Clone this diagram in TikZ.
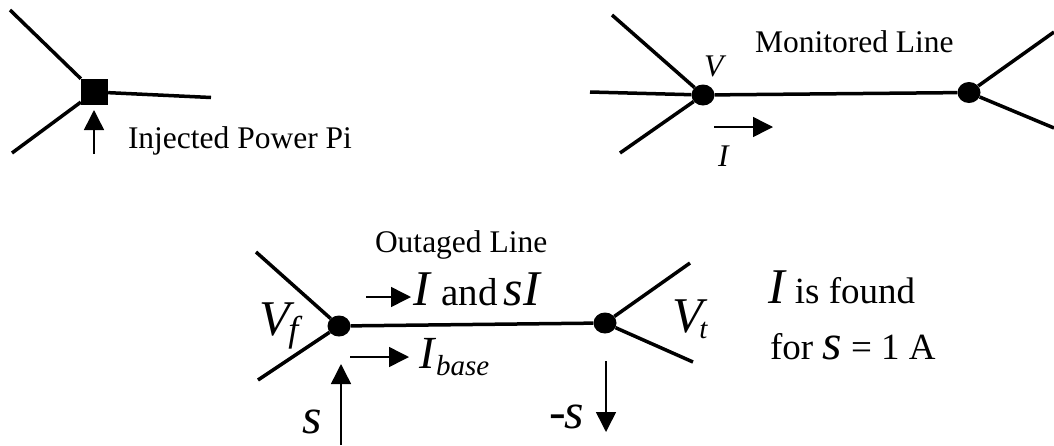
\documentclass[tikz,border=0pt]{standalone}
\usepackage{fontspec}
\setmainfont{Liberation Serif}
\usetikzlibrary{arrows.meta,shapes.geometric}
\newcommand{\fs}[1]{\fontsize{#1pt}{#1pt}\selectfont}
\tikzset{
  wire/.style={line width=3.5pt},
  bus/.style={ellipse,fill=black,draw=none,minimum width=23pt,minimum height=21pt,inner sep=0pt},
  busq/.style={rectangle,fill=black,draw=none,minimum width=27pt,minimum height=26pt,inner sep=0pt},
  flow/.style={line width=1.5pt,-{Triangle[length=20pt,width=20pt]}},
  lab/.style={anchor=base west,inner sep=0pt,outer sep=0pt},
  small/.style={lab,font=\fs{31.5}},
  big/.style={lab,font=\fs{50}},
  mid/.style={lab,font=\fs{37}}
}
\begin{document}
\begin{tikzpicture}[x=1pt,y=-1pt]
\useasboundingbox (0,0) rectangle (1054,445);
% injected power
\node[busq] (inj) at (94.5,92) {};
\coordinate (injA) at (10,10);
\coordinate (injB) at (12,153);
\coordinate (injC) at (211,97.5);
\coordinate (injP0) at (94,154);
\coordinate (injP1) at (94,110);
\draw[wire] (injA) -- (inj);
\draw[wire] (injB) -- (inj);
\draw[wire] (injC) -- (inj);
\draw[flow] (injP0) -- (injP1);
\node[small] (injT) at (128,148) {Injected Power Pi};
% monitored
\node[bus] (mF) at (703,95) {};
\node[bus] (mT) at (969,92.5) {};
\coordinate (mA) at (612,15);
\coordinate (mB) at (590,92);
\coordinate (mC) at (620,153);
\coordinate (mD) at (1054,32);
\coordinate (mE) at (1054,128);
\coordinate (mI0) at (714,127);
\coordinate (mI1) at (773,127);
\draw[wire] (mA) -- (mF);
\draw[wire] (mB) -- (mF);
\draw[wire] (mC) -- (mF);
\draw[wire] (mF) -- (mT);
\draw[wire] (mD) -- (mT);
\draw[wire] (mE) -- (mT);
\draw[flow] (mI0) -- (mI1);
\node[small] (mL) at (755,52) {Monitored Line};
\node[small] (mV) at (704,76) {\textit{V}};
\node[small] (mIt) at (718,166) {\textit{I}};
% outaged
\node[bus] (oF) at (339,326) {};
\node[bus] (oT) at (605,323) {};
\coordinate (oA) at (256,252);
\coordinate (oB) at (258,380);
\coordinate (oC) at (690,263);
\coordinate (oD) at (693,362);
\coordinate (oI0) at (366,297);
\coordinate (oI1) at (411,297);
\coordinate (oJ0) at (350,357);
\coordinate (oJ1) at (409,357);
\coordinate (oS0) at (341,445);
\coordinate (oS1) at (341,364);
\coordinate (oR0) at (606,361);
\coordinate (oR1) at (606,432);
\draw[wire] (oA) -- (oF);
\draw[wire] (oB) -- (oF);
\draw[wire] (oF) -- (oT);
\draw[wire] (oC) -- (oT);
\draw[wire] (oD) -- (oT);
\draw[flow] (oI0) -- (oI1);
\draw[flow] (oJ0) -- (oJ1);
\draw[flow] (oS0) -- (oS1);
\draw[flow] (oR0) -- (oR1);
\node[small] (oL) at (375,252) {Outaged Line};
\node[big] (oIs) at (413,305) {\textit{I}\kern10pt{\fs{39}and}\kern6pt\textit{sI}};
\node[big] (oVf) at (259,335) {\textit{V}\kern-6pt\raisebox{-6pt}{\fs{36}\textit{f}}};
\node[lab,font=\fs{46}] (oIb) at (419,368) {\textit{I}\raisebox{-7pt}{\fs{29}\textit{base}}};
\node[big] (oVt) at (672,332) {\textit{V}\kern-8pt\raisebox{-6pt}{\fs{29}\textit{t}}};
\node[big] (oS) at (302,433) {\textit{s}};
\node[big] (oR) at (549,428) {-\kern-1pt\textit{s}};
\node[big] (nA) at (768,303) {\textit{I}\,{\fs{37}is found}};
\node[mid] (nB) at (770,359) {for {\fs{50}\textit{s}} = 1 A};
\end{tikzpicture}
\end{document}
